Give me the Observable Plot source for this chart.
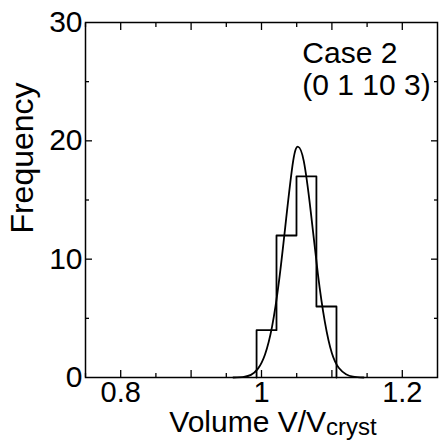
<!DOCTYPE html>
<html>
<head>
<meta charset="utf-8">
<script src="https://cdn.jsdelivr.net/npm/d3@7"></script>
<script src="https://cdn.jsdelivr.net/npm/@observablehq/plot@0.6"></script>
<style>
  html, body { margin: 0; padding: 0; background: #fff; }
  svg { display: block; }
</style>
</head>
<body>
<div id="chart"></div>
<script>
// Histogram bin edges (V/Vcryst) and counts
const binEdges = [0.993, 1.0213, 1.0497, 1.078, 1.1065];
const binCounts = [4, 12, 17, 6];

// Fitted curve, points
const curveX = [0.960, 0.975, 0.985, 0.995, 1.005, 1.015, 1.025, 1.035, 1.045, 1.052, 1.060, 1.070, 1.080, 1.090, 1.100, 1.110, 1.120, 1.130, 1.145];
const curveY = [0.0, 0.06, 0.22, 0.75, 1.95, 4.3, 8.2, 13.4, 18.3, 19.5, 18.3, 14.0, 8.8, 4.7, 2.05, 0.8, 0.28, 0.08, 0.0];

// Axis ticks
const xTickLabels = [0.8, 1, 1.2];
const xMajorTicks = [0.8, 0.9, 1.0, 1.1, 1.2];
const xMinorTicks = [0.75, 0.85, 0.95, 1.05, 1.15];
const yTickLabels = [0, 10, 20, 30];
const yMajorTicks = [10, 20];
const yMinorTicks = [5, 15, 25];

const annotation = "Case 2\n(0 1 10 3)";

// Build step outline from bins
const steps = [{x: binEdges[0], y: 0}];
binCounts.forEach((c, i) => {
  steps.push({x: binEdges[i], y: c});
  steps.push({x: binEdges[i + 1], y: c});
});
steps.push({x: binEdges[binEdges.length - 1], y: 0});
const fit = curveX.map((x, i) => ({x, y: curveY[i]}));

const font = "'Liberation Sans', Arial, Helvetica, sans-serif";

const plot = Plot.plot({
  width: 439,
  height: 441,
  marginLeft: 85,
  marginRight: 2,
  marginTop: 22,
  marginBottom: 64,
  style: {fontFamily: font, background: "#fff", color: "#000"},
  x: {domain: [0.75, 1.25], label: null},
  y: {domain: [0, 30], label: null},
  marks: [
    // inward ticks: bottom / top
    Plot.axisX(xMajorTicks, {anchor: "bottom", tickSize: -7, text: null, strokeWidth: 1.3}),
    Plot.axisX(xMinorTicks, {anchor: "bottom", tickSize: -4, text: null, strokeWidth: 1.3}),
    Plot.axisX(xMajorTicks, {anchor: "top", tickSize: -7, text: null, strokeWidth: 1.3}),
    Plot.axisX(xMinorTicks, {anchor: "top", tickSize: -4, text: null, strokeWidth: 1.3}),
    Plot.axisX(xTickLabels, {anchor: "bottom", tickSize: 0, tickPadding: 4, fontSize: 29, tickFormat: d => String(d)}),
    // inward ticks: left / right
    Plot.axisY(yMajorTicks, {anchor: "left", tickSize: -7, text: null, strokeWidth: 1.3}),
    Plot.axisY(yMinorTicks, {anchor: "left", tickSize: -4, text: null, strokeWidth: 1.3}),
    Plot.axisY(yMajorTicks, {anchor: "right", tickSize: -7, text: null, strokeWidth: 1.3}),
    Plot.axisY(yMinorTicks, {anchor: "right", tickSize: -4, text: null, strokeWidth: 1.3}),
    Plot.axisY(yTickLabels, {anchor: "left", tickSize: 0, tickPadding: 3, fontSize: 30, tickFormat: d => String(d)}),
    Plot.frame({stroke: "#000", strokeWidth: 1.5}),
    Plot.line(steps, {x: "x", y: "y", stroke: "#000", strokeWidth: 1.8}),
    Plot.line(fit, {x: "x", y: "y", stroke: "#000", strokeWidth: 1.8, curve: "natural"}),
    Plot.text([annotation], {x: 1.058, y: 30, text: d => d, textAnchor: "start", lineAnchor: "top", dy: 18, fontSize: 30, lineHeight: 1.07, fill: "#000"})
  ]
});

// axis titles (real text, with subscript)
const svg = d3.select(plot);
svg.append("text")
  .attr("transform", "translate(33,158) rotate(-90)")
  .attr("text-anchor", "middle")
  .attr("font-family", font)
  .attr("font-size", 32)
  .attr("fill", "#000")
  .text("Frequency");
const xl = svg.append("text")
  .attr("x", 273)
  .attr("y", 432)
  .attr("text-anchor", "middle")
  .attr("font-family", font)
  .attr("font-size", 30)
  .attr("fill", "#000");
xl.append("tspan").text("Volume V/V");
xl.append("tspan").attr("font-size", 24).attr("dy", 3).text("cryst");

document.getElementById("chart").appendChild(plot);
</script>
</body>
</html>
